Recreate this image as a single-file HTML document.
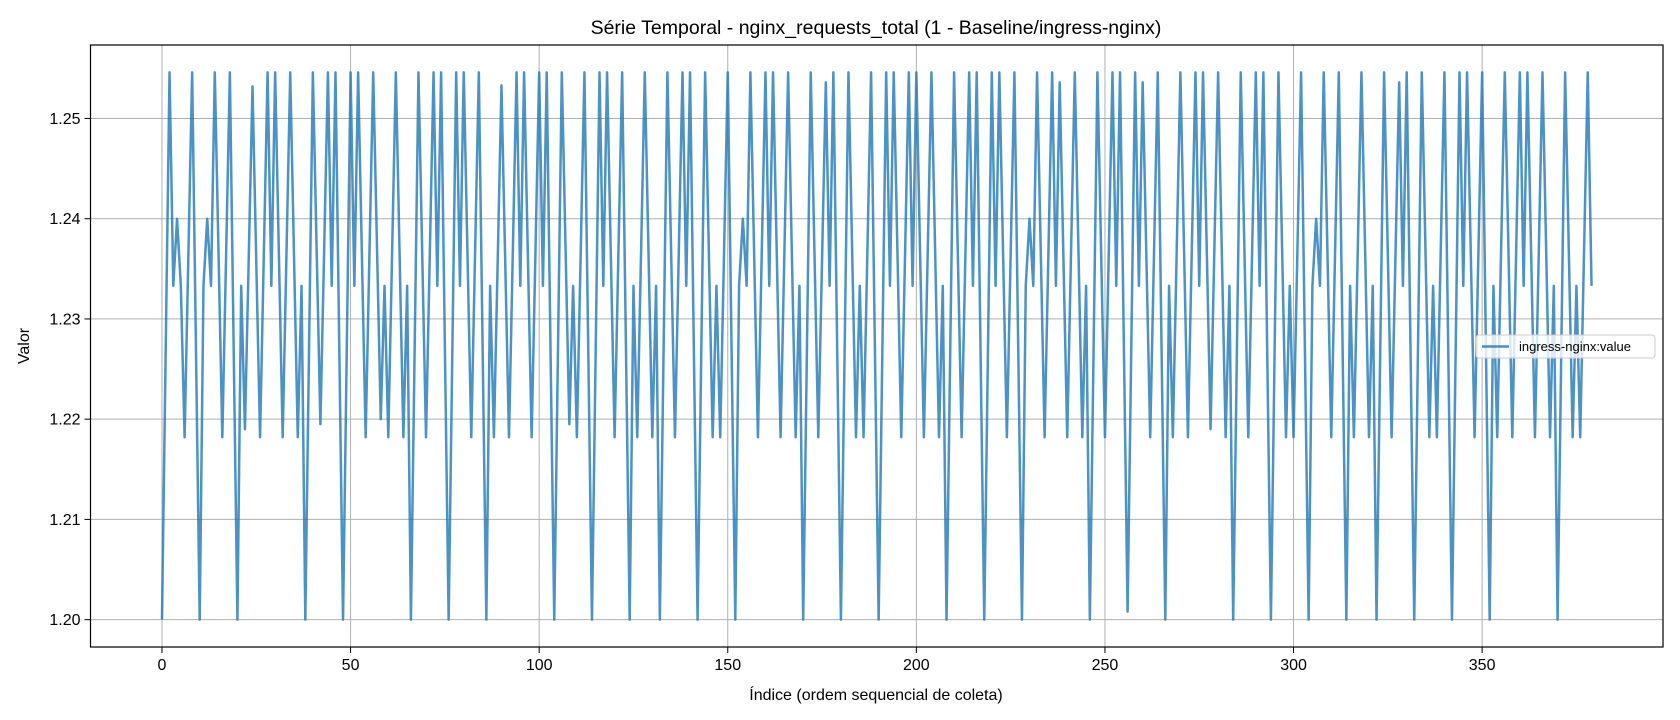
<!DOCTYPE html>
<html><head><meta charset="utf-8">
<style>
html,body{margin:0;padding:0;background:#fff;}
svg{display:block;font-family:"Liberation Sans","DejaVu Sans",sans-serif;}
</style></head>
<body>
<svg id="chart" width="1680" height="720" viewBox="0 0 1680 720" xmlns="http://www.w3.org/2000/svg">
<rect x="0" y="0" width="1680" height="720" fill="#fff"/>
<text x="876" y="34" text-anchor="middle" font-size="19.5" fill="#000">Série Temporal - nginx_requests_total (1 - Baseline/ingress-nginx)</text>
<g id="grid"></g>
<g id="series"></g>
<rect x="90.5" y="45" width="1572.5" height="602" fill="none" stroke="#000" stroke-width="1.2"/>
<g id="xticks"></g>
<g id="yticks"></g>
<text x="876" y="700" text-anchor="middle" font-size="16" fill="#000">Índice (ordem sequencial de coleta)</text>
<text x="0" y="0" transform="translate(29,346) rotate(-90)" text-anchor="middle" font-size="16" fill="#000">Valor</text>
<g>
<rect x="1476" y="335" width="179" height="23" rx="3" fill="#fff" fill-opacity="0.8" stroke="#ccc" stroke-width="1"/>
<line x1="1482" y1="346.5" x2="1509" y2="346.5" stroke="#1f77b4" stroke-opacity="0.8" stroke-width="2.5"/>
<text x="1519" y="351" font-size="13" fill="#000">ingress-nginx:value</text>
</g>
</svg>
<script>
const values = [
1.2,1.2273,1.2546,1.2333,1.24,1.2333,1.2182,1.2364,1.2546,1.2273,
1.2,1.2333,1.24,1.2333,1.2546,1.2364,1.2182,1.2364,1.2546,1.2273,
1.2,1.2333,1.219,1.2361,1.2532,1.2357,1.2182,1.2364,1.2546,1.2333,
1.2546,1.2364,1.2182,1.2364,1.2546,1.2364,1.2182,1.2333,1.2,1.2273,
1.2546,1.237,1.2195,1.237,1.2546,1.2333,1.2546,1.2273,1.2,1.2273,
1.2546,1.2333,1.2546,1.2364,1.2182,1.2364,1.2546,1.2373,1.22,1.2333,
1.2182,1.2364,1.2546,1.2364,1.2182,1.2333,1.2,1.2273,1.2546,1.2364,
1.2182,1.2364,1.2546,1.2333,1.2546,1.2273,1.2,1.2273,1.2546,1.2333,
1.2546,1.2364,1.2182,1.2364,1.2546,1.2273,1.2,1.2333,1.2182,1.2357,
1.2533,1.2357,1.2182,1.2364,1.2546,1.2333,1.2546,1.2364,1.2182,1.2364,
1.2546,1.2333,1.2546,1.2273,1.2,1.2273,1.2546,1.237,1.2195,1.2333,
1.2182,1.2364,1.2546,1.2273,1.2,1.2273,1.2546,1.2333,1.2546,1.2364,
1.2182,1.2364,1.2546,1.2273,1.2,1.2333,1.2182,1.2364,1.2546,1.2364,
1.2182,1.2333,1.2,1.2273,1.2546,1.2364,1.2182,1.2364,1.2546,1.2333,
1.2546,1.2273,1.2,1.2273,1.2546,1.2364,1.2182,1.2333,1.2182,1.2364,
1.2546,1.2273,1.2,1.2333,1.24,1.2333,1.2546,1.2364,1.2182,1.2364,
1.2546,1.2333,1.2546,1.2364,1.2182,1.2364,1.2546,1.2364,1.2182,1.2333,
1.2,1.2273,1.2546,1.2364,1.2182,1.2359,1.2536,1.2333,1.2546,1.2273,
1.2,1.2273,1.2546,1.2364,1.2182,1.2333,1.2182,1.2364,1.2546,1.2273,
1.2,1.2273,1.2546,1.2333,1.2546,1.2364,1.2182,1.2364,1.2546,1.2333,
1.2546,1.2364,1.2182,1.2364,1.2546,1.2364,1.2182,1.2333,1.2,1.2273,
1.2546,1.2364,1.2182,1.2364,1.2546,1.2333,1.2546,1.2273,1.2,1.2273,
1.2546,1.2333,1.2546,1.2364,1.2182,1.2364,1.2546,1.2273,1.2,1.2333,
1.24,1.2333,1.2546,1.2364,1.2182,1.2364,1.2546,1.2333,1.2536,1.2359,
1.2182,1.2364,1.2546,1.2364,1.2182,1.2333,1.2,1.2273,1.2546,1.2364,
1.2182,1.2364,1.2546,1.2333,1.2546,1.2277,1.2008,1.2277,1.2546,1.2333,
1.2536,1.2359,1.2182,1.2364,1.2546,1.2273,1.2,1.2333,1.2182,1.2364,
1.2546,1.2364,1.2182,1.2364,1.2546,1.2333,1.2546,1.2368,1.219,1.2368,
1.2546,1.2364,1.2182,1.2333,1.2,1.2273,1.2546,1.2364,1.2182,1.2364,
1.2546,1.2333,1.2546,1.2273,1.2,1.2273,1.2546,1.2364,1.2182,1.2333,
1.2182,1.2364,1.2546,1.2273,1.2,1.2333,1.24,1.2333,1.2546,1.2364,
1.2182,1.2364,1.2546,1.2273,1.2,1.2333,1.2182,1.2364,1.2546,1.2364,
1.2182,1.2333,1.2,1.2273,1.2546,1.2364,1.2182,1.2359,1.2536,1.2333,
1.2546,1.2273,1.2,1.2273,1.2546,1.2364,1.2182,1.2333,1.2182,1.2364,
1.2546,1.2273,1.2,1.2273,1.2546,1.2333,1.2546,1.2364,1.2182,1.2364,
1.2546,1.2273,1.2,1.2333,1.2182,1.2364,1.2546,1.2364,1.2182,1.2364,
1.2546,1.2333,1.2546,1.2364,1.2182,1.2364,1.2546,1.2364,1.2182,1.2333,
1.2,1.2273,1.2546,1.2364,1.2182,1.2333,1.2182,1.2364,1.2546,1.2333
];
const xTicks = [0,50,100,150,200,250,300,350];
const yTicks = [1.20,1.21,1.22,1.23,1.24,1.25];
const yTickLabels = ["1.20","1.21","1.22","1.23","1.24","1.25"];

const NS = "http://www.w3.org/2000/svg";
const P = {left:90.5, right:1663, top:45, bottom:647};
const n = values.length;
const xMin = -0.05*(n-1), xMax = (n-1)*1.05;
let vMin = Math.min(...values), vMax = Math.max(...values);
const pad = (vMax - vMin)*0.05;
const yMin = vMin - pad, yMax = vMax + pad;
function xs(i){ return P.left + (i - xMin)/(xMax - xMin)*(P.right - P.left); }
function ys(v){ return P.bottom - (v - yMin)/(yMax - yMin)*(P.bottom - P.top); }
function mk(tag, attrs){ const e=document.createElementNS(NS,tag); for(const k in attrs) e.setAttribute(k, attrs[k]); return e; }

const grid = document.getElementById('grid');
const xg = document.getElementById('xticks');
const yg = document.getElementById('yticks');
xTicks.forEach(t=>{
  const x = xs(t);
  const gl = mk('line',{x1:x,x2:x,y1:P.top,y2:P.bottom,stroke:'#b0b0b0','stroke-width':1});
  
  
  grid.appendChild(gl);
  const tk = mk('line',{x1:x,x2:x,y1:P.bottom,y2:P.bottom+6,stroke:'#000','stroke-width':1});
  
  
  xg.appendChild(tk);
  const lb = mk('text',{x:x,y:P.bottom+23,'text-anchor':'middle','font-size':16,fill:'#000'});
  lb.textContent = String(t);
  
  
  xg.appendChild(lb);
});
yTicks.forEach((t,k)=>{
  const y = ys(t);
  const gl = mk('line',{x1:P.left,x2:P.right,y1:y,y2:y,stroke:'#b0b0b0','stroke-width':1});
  
  
  grid.appendChild(gl);
  const tk = mk('line',{x1:P.left-6,x2:P.left,y1:y,y2:y,stroke:'#000','stroke-width':1});
  
  
  yg.appendChild(tk);
  const lb = mk('text',{x:P.left-10,y:y+5.5,'text-anchor':'end','font-size':16,fill:'#000'});
  lb.textContent = yTickLabels[k];
  
  
  yg.appendChild(lb);
});
const pts = values.map((v,i)=> xs(i).toFixed(2)+','+ys(v).toFixed(2)).join(' ');
const line = mk('polyline',{points:pts,fill:'none',stroke:'#1f77b4','stroke-opacity':0.8,'stroke-width':2.5,'stroke-linejoin':'round'});


document.getElementById('series').appendChild(line);
</script>
</body></html>
